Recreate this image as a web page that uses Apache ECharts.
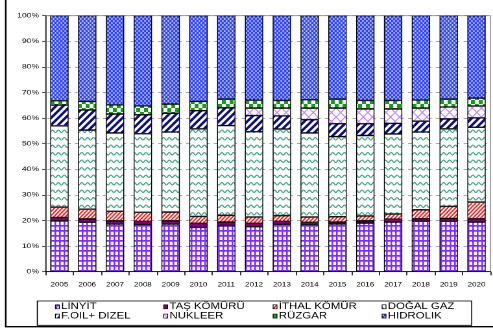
<!DOCTYPE html>
<html>
<head>
<meta charset="utf-8">
<script src="https://cdn.jsdelivr.net/npm/echarts@6/dist/echarts.min.js"></script>
<style>
  html, body { margin: 0; padding: 0; background: #fff; overflow: hidden; }
  #wrap { width: 493px; height: 331px; overflow: hidden; position: relative; }
  /* the chart is laid out on a narrower canvas and widened, giving the broad lettering */
  #chart { width: 380px; height: 331px; transform: scaleX(1.2974); transform-origin: 0 0; }
</style>
</head>
<body>
<div id="wrap"><div id="chart"></div></div>
<script>
// Shares of installed capacity by source, percent of total per year
const years = ['2005','2006','2007','2008','2009','2010','2011','2012','2013','2014','2015','2016','2017','2018','2019','2020'];
const linyit  = [19.9, 19.3, 18.6, 18.4, 18.6, 17.3, 18.0, 17.6, 18.5, 18.4, 18.6, 19.0, 19.4, 19.7, 19.7, 19.4];
const tasKomur = [1.3, 1.3, 1.3, 1.3, 1.3, 1.6, 1.4, 1.3, 1.2, 0.9, 0.8, 0.9, 1.1, 1.0, 1.1, 1.3];
const ithalKomur = [4.0, 3.8, 3.7, 3.5, 3.4, 2.7, 2.6, 2.5, 2.2, 2.1, 2.1, 1.9, 2.0, 3.5, 4.7, 6.5];
const dogalGaz = [31.8, 30.9, 30.6, 30.7, 31.3, 34.2, 35.1, 33.3, 33.8, 32.8, 31.3, 31.4, 31.3, 30.4, 30.3, 29.2];
const fuelOil  = [8.1, 7.9, 7.4, 7.4, 7.3, 7.1, 6.9, 6.3, 5.2, 5.2, 5.0, 4.6, 4.1, 4.2, 3.9, 3.7];
const nukleer  = [0, 0, 0, 0, 0, 0, 0, 2.9, 3.0, 4.5, 6.1, 5.8, 5.7, 5.1, 4.6, 4.6];
const ruzgar   = [1.7, 3.3, 3.6, 3.5, 3.6, 3.6, 3.4, 3.1, 3.0, 3.3, 3.5, 3.3, 3.3, 3.2, 3.1, 3.1];
const hidrolik = [33.2, 33.5, 34.8, 35.2, 34.5, 33.5, 32.6, 33.0, 33.1, 32.8, 32.6, 33.1, 33.1, 32.9, 32.6, 32.2];
const yTicks = [0, 10, 20, 30, 40, 50, 60, 70, 80, 90, 100];

const names = ['LİNYİT', 'TAŞ KÖMÜRÜ', 'İTHAL KÖMÜR', 'DOĞAL GAZ', 'F.OIL+ DIZEL', 'NUKLEER', 'RÜZGAR', 'HIDROLIK'];
const values = [linyit, tasKomur, ithalKomur, dogalGaz, fuelOil, nukleer, ruzgar, hidrolik];

// ---- hatch fills, drawn at double resolution and scaled back ----
function tile(w, h, draw, bg) {
  const c = document.createElement('canvas');
  c.width = Math.round(w * 2);
  c.height = Math.round(h * 2);
  const g = c.getContext('2d');
  g.scale(c.width / w, c.height / h);
  g.fillStyle = bg || '#fff';
  g.fillRect(0, 0, w, h);
  draw(g, w, h);
  return { image: c, repeat: 'repeat', scaleX: w / c.width, scaleY: h / c.height };
}
function checker(w, h, color) {
  return tile(w, h, (g) => {
    g.fillStyle = color;
    g.fillRect(0, 0, w / 2, h / 2);
    g.fillRect(w / 2, h / 2, w / 2, h / 2);
  });
}
// coloured ground with small white dots set in a checker arrangement
function dotted(w, h, color, dw, dh) {
  return tile(w, h, (g) => {
    g.fillStyle = '#fff';
    g.fillRect((w / 2 - dw) / 2, (h / 2 - dh) / 2, dw, dh);
    g.fillRect(w / 2 + (w / 2 - dw) / 2, h / 2 + (h / 2 - dh) / 2, dw, dh);
  }, color);
}
function risingStripes(w, h, color, lw) {
  return tile(w, h, (g) => {
    g.strokeStyle = color; g.lineWidth = lw; g.lineCap = 'butt';
    for (let n = -1; n <= 3; n++) {
      g.beginPath();
      g.moveTo(n * w + w, -h);
      g.lineTo(n * w - 2 * w, 2 * h);
      g.stroke();
    }
  });
}
function lattice(w, h, color, lw) {
  return tile(w, h, (g) => {
    g.strokeStyle = color; g.lineWidth = lw;
    for (let n = -2; n <= 3; n++) {
      g.beginPath(); g.moveTo(n * w + w, -h); g.lineTo(n * w - 2 * w, 2 * h); g.stroke();
      g.beginPath(); g.moveTo(n * w - w, -h); g.lineTo(n * w + 2 * w, 2 * h); g.stroke();
    }
  });
}
function waves(w, h, color, lw, amp) {
  return tile(w, h, (g) => {
    g.strokeStyle = color; g.lineWidth = lw;
    g.beginPath();
    for (let x = -w; x <= 2 * w; x += 0.1) {
      const y = h / 2 - amp * Math.cos(2 * Math.PI * x / w);
      if (x === -w) g.moveTo(x, y); else g.lineTo(x, y);
    }
    g.stroke();
  });
}
function gridFill(w, h, color, lwv, lwh) {
  return tile(w, h, (g) => {
    g.fillStyle = color;
    g.fillRect(0, 0, lwv, h);
    g.fillRect(0, 0, w, lwh);
  });
}

const fills = [
  gridFill(3.5, 5, '#7f2cff', 1.3, 1.7),         // LİNYİT
  '#800080',                                     // TAŞ KÖMÜRÜ
  risingStripes(3, 4, '#ff1a1a', 1.15),          // İTHAL KÖMÜR
  waves(4.5, 7.5, '#3fa585', 1.0, 1.2),          // DOĞAL GAZ
  risingStripes(5.5, 7, '#0c0c8a', 2.2),         // F.OIL+ DIZEL
  lattice(7, 9, '#c282ff', 0.9),                 // NUKLEER
  checker(6, 8, '#10a010'),                      // RÜZGAR
  dotted(3, 4, '#2f45ff', 1.05, 1.35)            // HIDROLIK
];

const series = names.map((name, i) => ({
  name: name,
  type: 'bar',
  stack: 'total',
  barCategoryGap: '34%',
  data: values[i],
  itemStyle: { color: fills[i], borderColor: '#000', borderWidth: 0.7 },
  emphasis: { disabled: true }
}));

// legend laid out as four columns of two entries; the key text sits close to its swatch
const legendColumns = [
  ['LİNYİT', 'F.OIL+ DIZEL'],
  ['TAŞ KÖMÜRÜ', 'NUKLEER'],
  ['İTHAL KÖMÜR', 'RÜZGAR'],
  ['DOĞAL GAZ', 'HIDROLIK']
];
const legendLefts = [42.4, 125.9, 210.2, 294.2];
const legends = legendColumns.map((col, i) => ({
  data: col,
  orient: 'vertical',
  left: legendLefts[i],
  top: 302.3,
  padding: 0,
  itemWidth: 3,
  itemHeight: 4,
  itemGap: 0.3,
  icon: 'rect',
  selectedMode: false,
  itemStyle: { borderColor: '#000', borderWidth: 0.6 },
  formatter: '{t|{name}}',
  textStyle: {
    fontFamily: 'Liberation Sans, Arial', fontSize: 8.8, lineHeight: 8.3, color: '#000',
    rich: { t: { fontFamily: 'Liberation Sans, Arial', fontSize: 8.8, lineHeight: 8.3, color: '#000', padding: [0, 0, 0, -3.6] } }
  }
}));

const chart = echarts.init(document.getElementById('chart'), null, { renderer: 'canvas', devicePixelRatio: 2 });
chart.setOption({
  animation: false,
  backgroundColor: '#fff',
  grid: {
    left: 35.07, right: 2, top: 15.7, bottom: 59.3,
    show: true, borderColor: '#8c8c8c', borderWidth: 0.8, backgroundColor: 'transparent'
  },
  legend: legends,
  xAxis: {
    type: 'category',
    data: years,
    boundaryGap: true,
    axisLine: { lineStyle: { color: '#000', width: 0.8 } },
    axisTick: { show: true, length: 3.5, lineStyle: { color: '#000', width: 0.8 } },
    axisLabel: { fontFamily: 'Liberation Sans, Arial', fontSize: 6.2, color: '#000', margin: 10.3 }
  },
  yAxis: {
    type: 'value',
    min: yTicks[0],
    max: yTicks[yTicks.length - 1],
    interval: yTicks[1] - yTicks[0],
    axisLine: { show: true, lineStyle: { color: '#333', width: 0.8 } },
    axisTick: { show: true, length: 2.5, lineStyle: { color: '#333', width: 0.8 } },
    axisLabel: { fontFamily: 'Liberation Sans, Arial', fontSize: 6.6, color: '#000', margin: 5, formatter: '{value}%' },
    splitLine: { lineStyle: { color: '#8c8c8c', width: 0.8, type: [3.85, 3.28], dashOffset: -1.4 } }
  },
  graphic: [
    { type: 'polyline', silent: true, z: 100,
      shape: { points: [[4.4, -3], [4.4, 326.7], [383, 326.7]] },
      style: { stroke: '#000', lineWidth: 1.3, fill: null } },
    { type: 'rect', silent: true, z: 100,
      shape: { x: 28.75, y: 301, width: 334.85, height: 24.3 },
      style: { stroke: '#000', lineWidth: 0.8, fill: null } }
  ],
  series: series
});
</script>
</body>
</html>
